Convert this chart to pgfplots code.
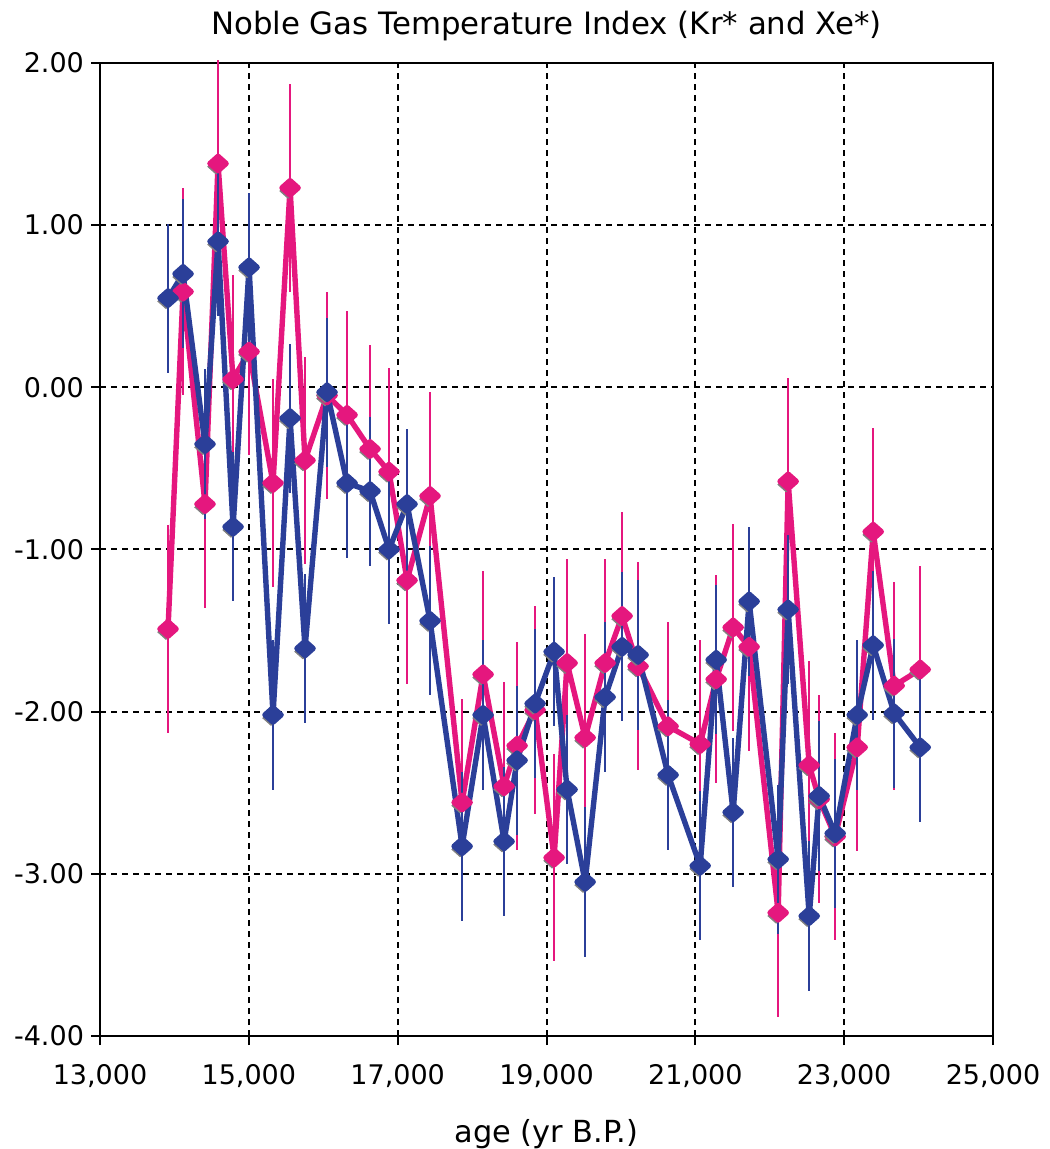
\documentclass[border=0pt]{standalone}
\usepackage{pgfplots}
\pgfplotsset{compat=1.18}
\usepackage{pgfplotstable}
\usepackage{fontspec}
\setmainfont{DejaVu Sans}
\definecolor{kblue}{RGB}{43,63,153}
\definecolor{kpink}{RGB}{229,23,126}
\definecolor{shadowgray}{RGB}{128,128,128}
\pgfplotstableread{
age blue pink
13914 0.55 -1.49
14116 0.70 0.59
14411 -0.35 -0.72
14586 0.90 1.38
14788 -0.86 0.05
15003 0.74 0.22
15325 -2.02 -0.59
15554 -0.19 1.23
15755 -1.61 -0.45
16051 -0.03 -0.05
16320 -0.59 -0.17
16629 -0.64 -0.38
16884 -1.00 -0.52
17126 -0.72 -1.19
17435 -1.44 -0.67
17866 -2.83 -2.56
18148 -2.02 -1.77
18430 -2.80 -2.46
18605 -2.30 -2.21
18847 -1.95 -1.99
19102 -1.63 -2.90
19277 -2.48 -1.70
19519 -3.05 -2.16
19788 -1.91 -1.70
20016 -1.60 -1.41
20231 -1.65 -1.72
20634 -2.39 -2.09
21065 -2.95 -2.20
21280 -1.68 -1.80
21508 -2.62 -1.48
21723 -1.32 -1.60
22113 -2.91 -3.24
22247 -1.37 -0.58
22530 -3.26 -2.33
22664 -2.52 -2.54
22879 -2.75 -2.77
23175 -2.02 -2.22
23390 -1.59 -0.89
23672 -2.01 -1.84
24022 -2.22 -1.74
}\datatable
\begin{document}
\begin{tikzpicture}
\begin{axis}[
  name=ax,
  scale only axis, width=446.5pt, height=486.5pt,
  xmin=13000, xmax=25000, ymin=-4, ymax=2,
  xtick={13000,15000,17000,19000,21000,23000,25000},
  ytick={-4,-3,-2,-1,0,1,2},
  scaled x ticks=false, scaled y ticks=false,
  grid=major,
  major grid style={black, line width=1pt, dash pattern=on 3pt off 2.5pt},
  axis line style={black, line width=1.2pt},
  tick style={black, line width=1pt},
  tick align=outside, major tick length=4.5pt,
  xtick pos=bottom, ytick pos=left,
  /pgf/number format/assume math mode=true,
  x tick label style={/pgf/number format/1000 sep={,}, font=\fontsize{13.5}{16}\selectfont, yshift=-8.5pt, inner sep=1pt},
  y tick label style={/pgf/number format/fixed, /pgf/number format/fixed zerofill, /pgf/number format/precision=2, font=\fontsize{13.5}{16}\selectfont},
  xlabel={age (yr B.P.)},
  xlabel style={font=\fontsize{15.2}{18}\selectfont, at={(axis description cs:0.5,0)}, anchor=base, yshift=-53pt, inner sep=0pt},
  every axis title shift=0pt,
  title={Noble Gas Temperature Index (Kr* and Xe*)},
  title style={font=\fontsize{15.4}{18}\selectfont, anchor=base, yshift=14pt, inner sep=0pt},
  clip=false,
]
\addplot[only marks, mark=diamond*, color=shadowgray, mark size=3.6pt, mark options={xscale=1.5, xshift=-0.7pt, yshift=-1.6pt}] table[x=age, y=pink]{\datatable};
\addplot[kpink, line width=2.7pt, line join=round, mark=diamond*, mark size=3.6pt, mark options={xscale=1.5, solid},
  error bars/.cd, y dir=both, y fixed=0.64, error mark=none, error bar style={line width=1pt, kpink}]
  table[x=age, y=pink]{\datatable};
\addplot[only marks, mark=diamond*, color=shadowgray, mark size=3.6pt, mark options={xscale=1.5, xshift=-0.7pt, yshift=-1.6pt}] table[x=age, y=blue]{\datatable};
\addplot[kblue, line width=2.7pt, line join=round, mark=diamond*, mark size=3.6pt, mark options={xscale=1.5, solid},
  error bars/.cd, y dir=both, y fixed=0.46, error mark=none, error bar style={line width=1pt, kblue}]
  table[x=age, y=blue]{\datatable};
\end{axis}
\path ([xshift=-50pt,yshift=-56.5pt]ax.south west) rectangle ([xshift=28pt,yshift=31.5pt]ax.north east);
\end{tikzpicture}
\end{document}
